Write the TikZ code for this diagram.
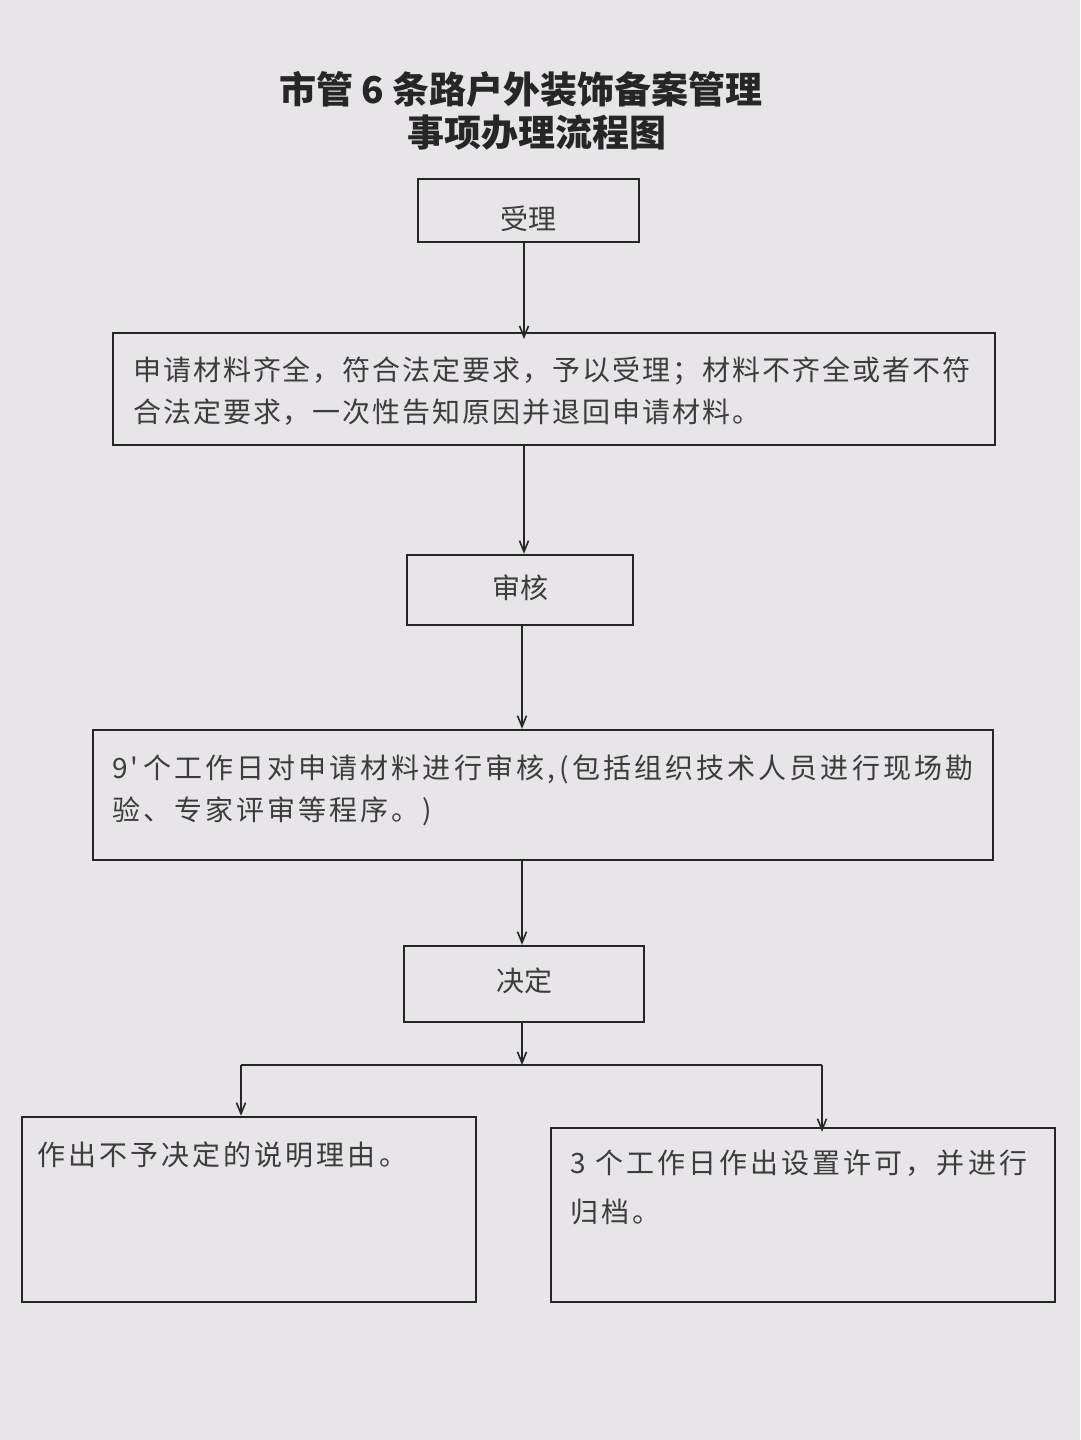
\documentclass[tikz,border=0pt]{standalone}
\usepackage{fontspec}
\setmainfont{Noto Sans CJK SC}
\newfontfamily\cjk{Noto Sans CJK SC}
\newfontfamily\cjks[LetterSpace=7]{Noto Sans CJK SC}
\newfontfamily\cjkw[LetterSpace=11]{Noto Sans CJK SC}
\usetikzlibrary{arrows.meta}
\definecolor{paper}{HTML}{E7E5E8}
\definecolor{ink}{HTML}{262626}
\tikzset{
  box/.style={draw=ink, line width=2.4pt, rectangle, inner sep=0pt},
  lbl/.style={font=\fontsize{28}{42}\selectfont\cjk, text=ink!90, inner sep=0pt},
  body/.style={font=\fontsize{28}{42}\selectfont\cjks, text=ink!90, inner sep=0pt, align=left, anchor=north west},
  bodyw/.style={body, font=\fontsize{28}{42}\selectfont\cjkw},
  ttl/.style={font=\fontsize{37}{46}\selectfont\cjk\bfseries, text=ink, inner sep=0pt},
  conn/.style={draw=ink, line width=2pt},
  arr/.style={conn, -{Straight Barb[length=11pt,width=9pt,line width=1.6pt]}}
}
\begin{document}
\begin{tikzpicture}[x=1pt,y=-1pt]
\fill[paper] (0,0) rectangle (1080,1440);
\useasboundingbox (0,0) rectangle (1080,1440);

\node[ttl] (t1) at (521,89) {市管 6 条路户外装饰备案管理};
\node[ttl] (t2) at (537,133) {事项办理流程图};

\node[box, minimum width=221pt, minimum height=63pt] (n1) at (528.5,210.5) {};
\node[lbl] (l1) at ([yshift=-8pt]n1.center) {受理};

\node[box, minimum width=882pt, minimum height=112pt] (n2) at (554,389) {};
\node[body] (l2) at (133,356) {申请材料齐全，符合法定要求，予以受理；材料不齐全或者不符\\合法定要求，一次性告知原因并退回申请材料。};

\node[box, minimum width=226pt, minimum height=70pt] (n3) at (520,590) {};
\node[lbl] (l3) at ([yshift=2pt]n3.center) {审核};

\node[box, minimum width=900pt, minimum height=130pt] (n4) at (543,795) {};
\node[bodyw] (l4) at (112,755) {9'\,个工作日对申请材料进行审核,\,(包括组织技术人员进行现场勘\\验、专家评审等程序。)};

\node[box, minimum width=240pt, minimum height=76pt] (n5) at (524,984) {};
\node[lbl] (l5) at ([yshift=3pt]n5.center) {决定};

\node[box, minimum width=454pt, minimum height=185pt] (n6) at (249,1209.5) {};
\node[bodyw] (l6) at (37,1142) {作出不予决定的说明理由。};

\node[box, minimum width=504pt, minimum height=174pt] (n7) at (803,1215) {};
\node[bodyw, font=\fontsize{28}{49}\selectfont\cjkw] (l7) at (570,1150) {3 个工作日作出设置许可，并进行\\归档。};

\coordinate (j) at (522,1065);
\coordinate (jl) at (241,1065);
\coordinate (jr) at (822,1065);

\draw[arr] (n1.south -| 524,0) -- (524,339);
\draw[arr] (524,445) -- (n3.north -| 524,0);
\draw[arr] (n3.south -| 522,0) -- (n4.north -| 522,0);
\draw[arr] (n4.south -| 522,0) -- (n5.north -| 522,0);
\draw[arr] (n5.south -| j) -- (j);
\draw[conn] (jl) -- (jr);
\draw[arr] (jl) -- (jl |- n6.north);
\draw[arr] (jr) -- ([yshift=-5pt]jr |- n7.north);
\end{tikzpicture}
\end{document}
